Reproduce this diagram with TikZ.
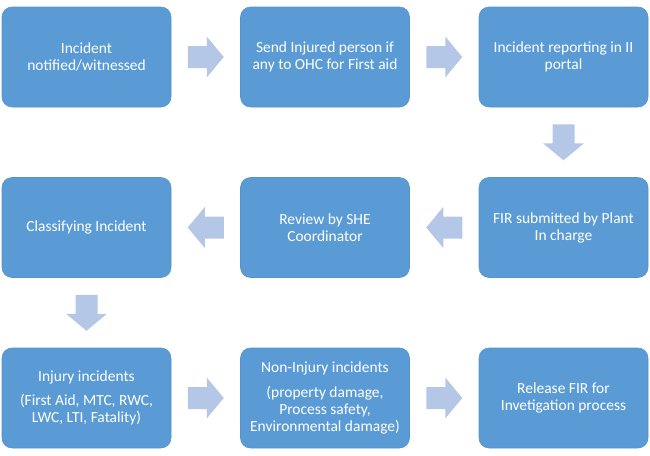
\documentclass[tikz,border=0pt]{standalone}
\usepackage{fontspec}
\setmainfont{Carlito}
\usetikzlibrary{calc}
\definecolor{boxblue}{HTML}{5B9BD5}
\definecolor{boxedge}{HTML}{5592CC}
\definecolor{arrowblue}{HTML}{B4C7E7}
\tikzset{
  x=0.75pt, y=-0.75pt,
  stepbox/.style={rectangle, rounded corners=7.5pt, fill=boxblue, draw=boxedge, line width=0.4pt,
    minimum width=126.75pt, minimum height=75pt, inner sep=0pt, text=white, align=center,
    font=\fontsize{11.6}{12.8}\selectfont},
  barrow/.pic={\fill[arrowblue] (-18,-11)--(1,-11)--(1,-20.5)--(18,0)--(1,20.5)--(1,11)--(-18,11)--cycle;}
}
\begin{document}
\begin{tikzpicture}
\useasboundingbox (0,0) rectangle (650,455);
\node[stepbox] (n1) at (86.5,57) {Incident\\notified/witnessed};
\node[stepbox] (n2) at (325,57) {Send Injured person if\\any to OHC for First aid};
\node[stepbox] (n3) at (563.5,57) {Incident reporting in II\\portal};
\node[stepbox] (n4) at (563.5,227.5) {FIR submitted by Plant\\In charge};
\node[stepbox] (n5) at (325,227.5) {Review by SHE\\Coordinator};
\node[stepbox] (n6) at (86.5,227.5) {Classifying Incident};
\node[stepbox] (n7) at (86.5,398) {Injury incidents\\[5.5pt](First Aid, MTC, RWC,\\LWC, LTI, Fatality)};
\node[stepbox] (n8) at (325,398) {Non-Injury incidents\\[5.5pt](property damage,\\Process safety,\\Environmental damage)};
\node[stepbox] (n9) at (563.5,398) {Release FIR for\\Invetigation process};
\pic at ($(n1.east)!0.5!(n2.west)$) {barrow};
\pic at ($(n2.east)!0.5!(n3.west)$) {barrow};
\pic[rotate=-90] at ($(n3.south)!0.5!(n4.north)$) {barrow};
\pic[rotate=180] at ($(n4.west)!0.5!(n5.east)$) {barrow};
\pic[rotate=180] at ($(n5.west)!0.5!(n6.east)$) {barrow};
\pic[rotate=-90] at ($(n6.south)!0.5!(n7.north)$) {barrow};
\pic at ($(n7.east)!0.5!(n8.west)$) {barrow};
\pic at ($(n8.east)!0.5!(n9.west)$) {barrow};
\end{tikzpicture}
\end{document}
